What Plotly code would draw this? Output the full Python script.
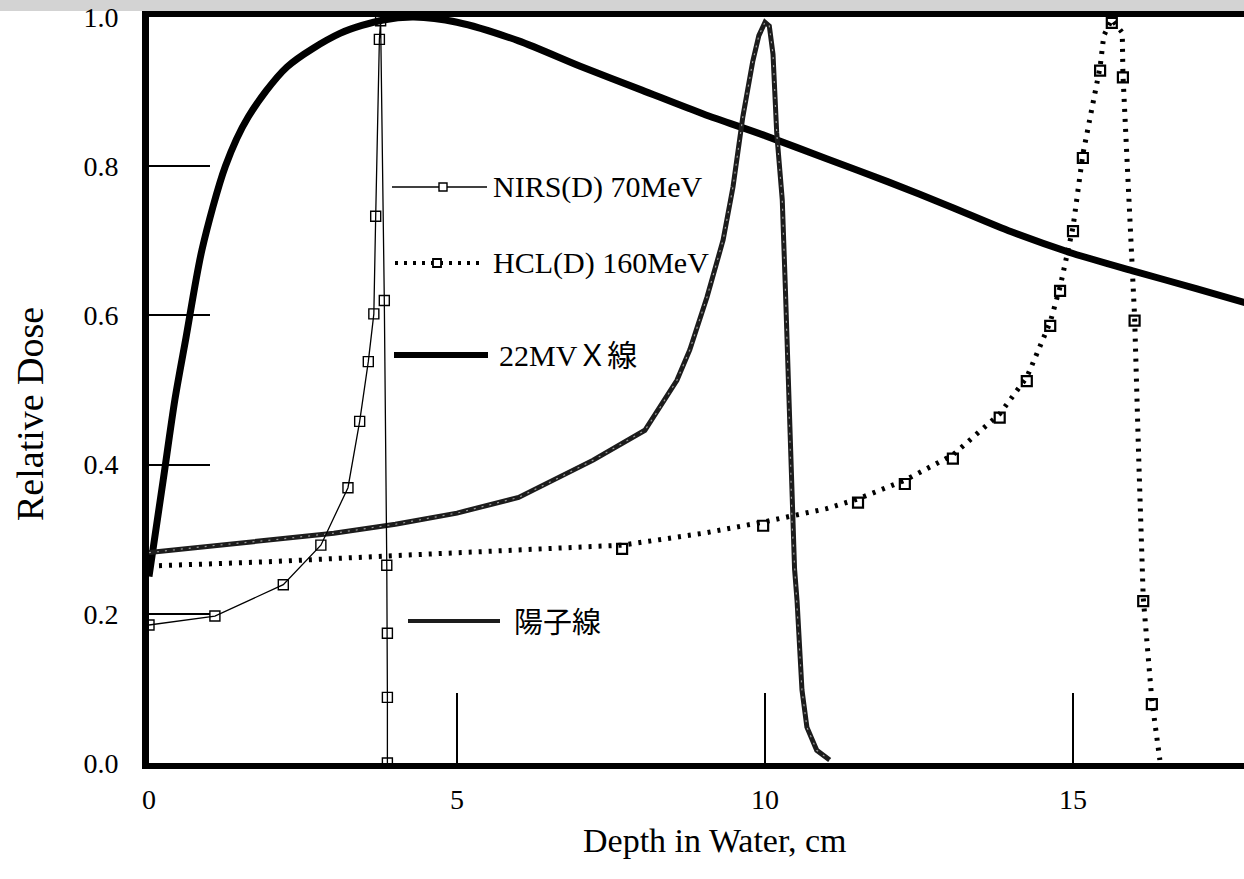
import plotly.graph_objects as go

# ---- depth-dose data (depth in cm, relative dose) ----
xray_depth = [0, 0.23, 0.42, 0.6, 0.86, 1.24, 1.61, 2.24, 3.1, 3.8, 4.3, 5, 6, 7, 8,
              9, 10, 11, 12, 13, 14, 15, 16, 17, 17.8]
xray_dose = [0.25, 0.379, 0.487, 0.57, 0.688, 0.80, 0.866, 0.933, 0.978, 0.996, 1.0,
             0.993, 0.968, 0.934, 0.902, 0.87, 0.841, 0.81, 0.779, 0.746, 0.712, 0.683,
             0.659, 0.636, 0.617]

proton_depth = [0, 1, 2, 3, 4, 5, 6, 6.67, 7.21, 8.05, 8.3, 8.57, 8.78, 9.06, 9.32, 9.48,
                9.64, 9.8, 9.9, 10.0, 10.07, 10.13, 10.19, 10.28, 10.33, 10.37, 10.41,
                10.44, 10.48, 10.52, 10.57, 10.6, 10.68, 10.84, 11.05]
proton_dose = [0.282, 0.291, 0.299, 0.308, 0.32, 0.335, 0.356, 0.383, 0.406, 0.446, 0.477,
               0.513, 0.554, 0.625, 0.701, 0.772, 0.866, 0.94, 0.975, 0.993, 0.988, 0.95,
               0.845, 0.755, 0.638, 0.54, 0.42, 0.32, 0.26, 0.218, 0.129, 0.098, 0.048,
               0.017, 0.004]

nirs_depth = [0, 1.07, 2.18, 2.79, 3.23, 3.42, 3.56, 3.65, 3.68, 3.74, 3.76, 3.82, 3.86,
              3.87, 3.87, 3.87]
nirs_dose = [0.185, 0.197, 0.239, 0.292, 0.369, 0.458, 0.538, 0.602, 0.733, 0.97, 0.995,
             0.62, 0.265, 0.174, 0.088, 0.0]

hcl_depth = [0, 2, 4, 6, 7.68, 9, 9.97, 11, 11.51, 12.27, 13.05, 13.81, 14.25, 14.63, 14.79,
             15.0, 15.16, 15.44, 15.5, 15.63, 15.8, 15.81, 15.9, 16.0, 16.07, 16.14, 16.28,
             16.41]
hcl_dose = [0.264, 0.27, 0.278, 0.286, 0.292, 0.308, 0.323, 0.341, 0.354, 0.379, 0.413,
            0.468, 0.517, 0.591, 0.638, 0.718, 0.816, 0.933, 0.975, 0.997, 0.979, 0.924,
            0.76, 0.598, 0.4, 0.222, 0.084, 0.004]
# points of the HCL curve that carry a symbol
hcl_marked = [4, 6, 8, 9, 10, 11, 12, 13, 14, 15, 16, 17, 19, 21, 23, 25, 26]

x_ticks = [0, 5, 10, 15]
y_ticks = [0.0, 0.2, 0.4, 0.6, 0.8, 1.0]

legend_labels = ["NIRS(D) 70MeV", "HCL(D) 160MeV", "22MVＸ線", "陽子線"]
x_title = "Depth in Water, cm"
y_title = "Relative Dose"

# ---- page geometry (pixels) ----
W, H = 1244, 879
L, R, T, B = 149, 0, 17, 116
PW, PH = W - L - R, H - T - B

SERIF = "Liberation Serif, Times New Roman, Noto Sans CJK JP, serif"
CJK = "Noto Sans CJK JP, sans-serif"


def px(xp):
    return (xp - L) / PW


def py(yp):
    return (H - B - yp) / PH


fig = go.Figure()

fig.add_trace(go.Scatter(x=xray_depth, y=xray_dose, mode="lines",
                         line=dict(color="black", width=7, shape="spline", smoothing=0.8),
                         showlegend=False))

fig.add_trace(go.Scatter(x=proton_depth, y=proton_dose, mode="lines",
                         line=dict(color="#1c1c1c", width=5), showlegend=False))
fig.add_trace(go.Scatter(x=proton_depth, y=proton_dose, mode="lines",
                         line=dict(color="rgba(255,255,255,0.55)", width=1.2,
                                   dash="2px,6px"),
                         showlegend=False))

fig.add_trace(go.Scatter(x=hcl_depth, y=hcl_dose, mode="lines",
                         line=dict(color="black", width=5, dash="3px,7px"),
                         showlegend=False))
fig.add_trace(go.Scatter(x=[hcl_depth[i] for i in hcl_marked],
                         y=[hcl_dose[i] - 0.005 for i in hcl_marked], mode="markers",
                         marker=dict(symbol="square-open", size=10, color="black",
                                     line=dict(width=2.2)),
                         showlegend=False))

fig.add_trace(go.Scatter(x=nirs_depth, y=nirs_dose, mode="lines+markers",
                         line=dict(color="black", width=1.3),
                         marker=dict(symbol="square-open", size=10, color="black",
                                     line=dict(width=1.4)),
                         showlegend=False))

# ---- legend drawn inside the plot ----
shapes = []
annotations = []

# top scan band
shapes.append(dict(type="rect", xref="paper", yref="paper", x0=px(0), x1=px(W),
                   y0=py(11), y1=py(0), fillcolor="#d3d3d3", line=dict(width=0),
                   layer="below"))

# NIRS sample
shapes.append(dict(type="line", xref="paper", yref="paper", x0=px(392), x1=px(487),
                   y0=py(187), y1=py(187), line=dict(color="black", width=1.3)))
shapes.append(dict(type="rect", xref="paper", yref="paper", x0=px(439), x1=px(447),
                   y0=py(191), y1=py(183), fillcolor="white",
                   line=dict(color="black", width=1.4)))
# HCL sample
shapes.append(dict(type="line", xref="paper", yref="paper", x0=px(395), x1=px(485),
                   y0=py(263), y1=py(263), line=dict(color="black", width=4, dash="3px,6px")))
shapes.append(dict(type="rect", xref="paper", yref="paper", x0=px(433), x1=px(441),
                   y0=py(267), y1=py(259), fillcolor="white",
                   line=dict(color="black", width=1.8)))
# 22MV X sample
shapes.append(dict(type="line", xref="paper", yref="paper", x0=px(394), x1=px(488),
                   y0=py(355), y1=py(355), line=dict(color="black", width=6)))
# proton sample
shapes.append(dict(type="line", xref="paper", yref="paper", x0=px(408), x1=px(500),
                   y0=py(621), y1=py(621), line=dict(color="#1c1c1c", width=4)))

legend_pos = [(491, 187, SERIF, 30), (491, 263, SERIF, 30), (497, 355, SERIF, 30),
              (512, 620, CJK, 29)]
for text, (xp, yp, fam, size) in zip(legend_labels, legend_pos):
    annotations.append(dict(text=text, xref="paper", yref="paper", x=px(xp), y=py(yp),
                            xanchor="left", yanchor="middle", showarrow=False,
                            font=dict(family=fam, size=size, color="black")))

# axis titles
annotations.append(dict(text=x_title, xref="paper", yref="paper", x=px(714), y=py(840),
                        xanchor="center", yanchor="middle", showarrow=False,
                        font=dict(family=SERIF, size=34, color="black")))
annotations.append(dict(text=y_title, xref="paper", yref="paper", x=px(30), y=py(414),
                        xanchor="center", yanchor="middle", showarrow=False, textangle=-90,
                        font=dict(family=SERIF, size=38, color="black")))

fig.update_layout(
    width=W, height=H,
    margin=dict(l=L, r=R, t=T, b=B, pad=0),
    paper_bgcolor="white", plot_bgcolor="white",
    showlegend=False,
    shapes=shapes, annotations=annotations,
    xaxis=dict(range=[0, PW / 61.6], tickvals=x_ticks, ticks="inside", ticklen=70,
               tickwidth=2, tickcolor="black", showgrid=False, zeroline=False,
               showline=True, linewidth=6, linecolor="black", mirror=True,
               ticklabelstandoff=6,
               tickfont=dict(family=SERIF, size=28, color="black")),
    yaxis=dict(range=[0, 1], tickvals=y_ticks, tickformat=".1f", ticks="inside",
               ticklen=61, tickwidth=2, tickcolor="black", showgrid=False,
               zeroline=False, showline=True, linewidth=7, linecolor="black",
               mirror=False, ticklabelstandoff=18,
               tickfont=dict(family=SERIF, size=28, color="black")),
)

fig.write_html("out.html")
